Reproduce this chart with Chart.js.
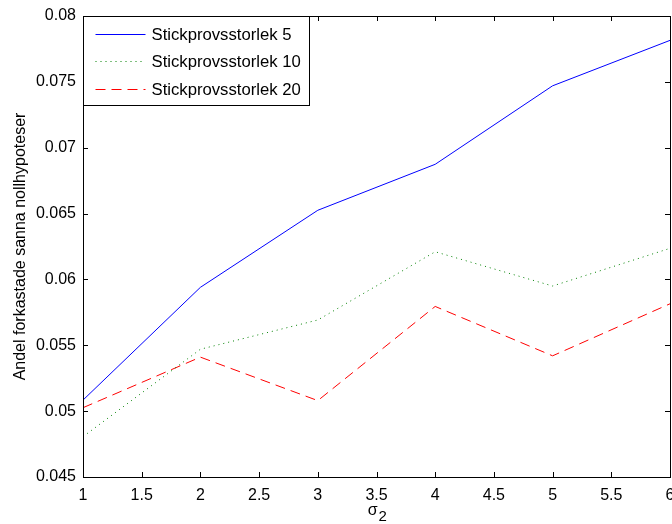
<!DOCTYPE html>
<html>
<head>
<meta charset="utf-8">
<script src="https://cdn.jsdelivr.net/npm/chart.js@4.4.1/dist/chart.umd.min.js"></script>
<style>
    html, body { margin: 0; padding: 0; background: #fff; }
    #wrap { width: 672px; height: 524px; }
</style>
</head>
<body>
<div id="wrap"><canvas id="grafico" width="672" height="524"></canvas></div>
<script>
// datos
const sigma2 = [1, 2, 3, 4, 5, 6];
const stickprov5 = [0.05084, 0.05940, 0.06525, 0.06874, 0.07470, 0.07815];
const stickprov10 = [0.04806, 0.05470, 0.05692, 0.06210, 0.05950, 0.06236];
const stickprov20 = [0.05026, 0.05410, 0.05080, 0.05795, 0.05420, 0.05815];
const etiquetas = ['Stickprovsstorlek 5', 'Stickprovsstorlek 10', 'Stickprovsstorlek 20'];

const fuente = 'Liberation Sans, Arial, sans-serif';

function puntos(ys) {
    return sigma2.map((x, i) => ({ x: x, y: ys[i] }));
}

// marcas hacia adentro en los cuatro lados (estilo matlab)
const marcasPlugin = {
    id: 'marcas',
    afterDraw(chart) {
        const ctx = chart.ctx;
        const a = chart.chartArea;
        const sx = chart.scales.x, sy = chart.scales.y;
        ctx.save();
        ctx.strokeStyle = '#000';
        ctx.lineWidth = 1;
        ctx.beginPath();
        sx.ticks.forEach(t => {
            const px = Math.round(sx.getPixelForValue(t.value)) + 0.5;
            ctx.moveTo(px, a.bottom); ctx.lineTo(px, a.bottom - 5);
            ctx.moveTo(px, a.top); ctx.lineTo(px, a.top + 5);
        });
        sy.ticks.forEach(t => {
            const py = Math.round(sy.getPixelForValue(t.value)) + 0.5;
            ctx.moveTo(a.left, py); ctx.lineTo(a.left + 5, py);
            ctx.moveTo(a.right, py); ctx.lineTo(a.right - 5, py);
        });
        ctx.stroke();
        ctx.strokeRect(Math.round(a.left) + 0.5, Math.round(a.top) + 0.5,
            Math.round(a.right - a.left), Math.round(a.bottom - a.top));

        // titulo del eje x con subindice
        const cx = (a.left + a.right) / 2;
        ctx.fillStyle = '#000';
        ctx.textBaseline = 'alphabetic';
        ctx.textAlign = 'right';
        ctx.font = '16px ' + fuente;
        ctx.fillText('σ', cx + 1, 515);
        ctx.textAlign = 'left';
        ctx.font = '15px ' + fuente;
        ctx.fillText('2', cx + 2, 521);
        ctx.restore();
    }
};

// leyenda dentro del area, arriba a la izquierda
const leyendaPlugin = {
    id: 'leyendaDentro',
    afterDraw(chart) {
        const ctx = chart.ctx;
        const a = chart.chartArea;
        const x0 = Math.round(a.left) + 0.5, y0 = Math.round(a.top) + 0.5;
        const w = 226, h = 89;
        ctx.save();
        ctx.fillStyle = '#fff';
        ctx.fillRect(x0, y0, w, h);
        ctx.strokeStyle = '#000';
        ctx.lineWidth = 1;
        ctx.strokeRect(x0, y0, w, h);
        ctx.font = '16.7px ' + fuente;
        ctx.textBaseline = 'middle';
        chart.data.datasets.forEach((ds, i) => {
            const y = Math.round(y0 + 17 + i * 27.5) + 0.5;
            ctx.strokeStyle = ds.borderColor;
            ctx.setLineDash(ds.borderDash || []);
            ctx.beginPath();
            ctx.moveTo(x0 + 12, y);
            ctx.lineTo(x0 + 62, y);
            ctx.stroke();
            ctx.setLineDash([]);
            ctx.fillStyle = '#000';
            ctx.fillText(ds.label, x0 + 68, y + 1);
        });
        ctx.restore();
    }
};

const ctx = document.getElementById('grafico').getContext('2d');
new Chart(ctx, {
    type: 'line',
    data: {
        datasets: [
            {
                label: etiquetas[0],
                data: puntos(stickprov5),
                borderColor: '#0000ff',
                borderWidth: 1,
                pointRadius: 0,
                fill: false,
                tension: 0
            },
            {
                label: etiquetas[1],
                data: puntos(stickprov10),
                borderColor: '#008000',
                borderWidth: 1,
                borderDash: [1, 4],
                pointRadius: 0,
                fill: false,
                tension: 0
            },
            {
                label: etiquetas[2],
                data: puntos(stickprov20),
                borderColor: '#ff0000',
                borderWidth: 1,
                borderDash: [10, 6],
                pointRadius: 0,
                fill: false,
                tension: 0
            }
        ]
    },
    options: {
        responsive: false,
        animation: false,
        layout: { padding: { top: 16, right: 2, left: 0, bottom: 0 } },
        plugins: {
            legend: { display: false },
            tooltip: { enabled: false }
        },
        scales: {
            x: {
                type: 'linear',
                min: 1,
                max: 6,
                grid: { display: false, drawTicks: false },
                border: { display: false },
                ticks: {
                    stepSize: 0.5,
                    padding: 9,
                    color: '#000',
                    font: { family: fuente, size: 16 },
                    maxRotation: 0,
                    callback: function (v) { return v.toString(); }
                },
                afterFit: function (scale) {
                    scale.height = 47;
                    scale.paddingRight = 0;
                    scale.paddingLeft = 0;
                }
            },
            y: {
                min: 0.045,
                max: 0.08,
                grid: { display: false, drawTicks: false },
                border: { display: false },
                ticks: {
                    stepSize: 0.005,
                    padding: 7,
                    color: '#000',
                    font: { family: fuente, size: 16 },
                    callback: function (v) { return parseFloat(v.toFixed(3)).toString(); }
                },
                title: {
                    display: true,
                    text: 'Andel forkastade sanna nollhypoteser',
                    color: '#000',
                    font: { family: fuente, size: 16 },
                    padding: { top: 11, bottom: 0 }
                },
                afterFit: function (scale) {
                    scale.width = 83;
                    scale.paddingTop = 0;
                    scale.paddingBottom = 0;
                }
            }
        }
    },
    plugins: [marcasPlugin, leyendaPlugin]
});
</script>
</body>
</html>
